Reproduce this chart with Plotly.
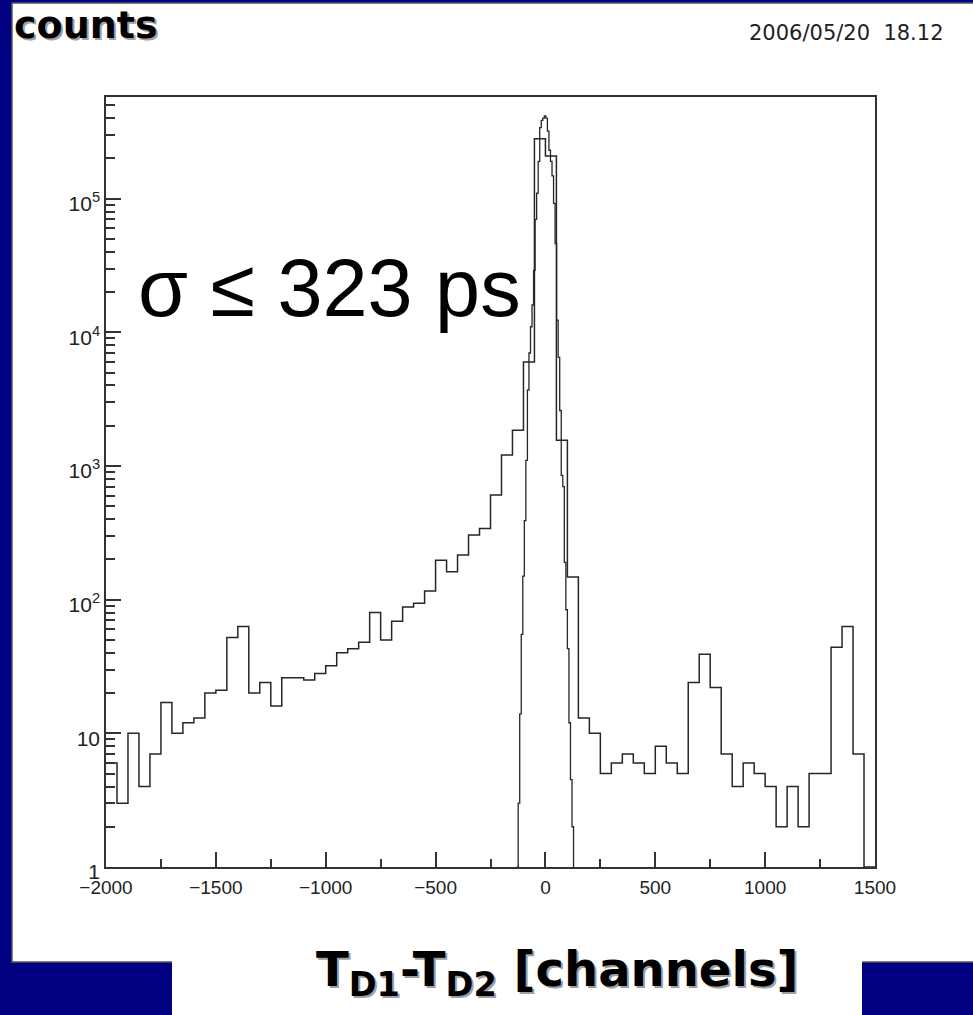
import numpy as np
import plotly.graph_objects as go

# ---- data -------------------------------------------------------------
# coarse histogram of T_D1 - T_D2, 50-channel bins from -2000 to 1500
coarse_lo, coarse_hi, coarse_w = -2000, 1500, 50
coarse_counts = [
    6, 3, 10, 4, 7, 17, 10, 12, 13, 20,
    21, 52, 63, 20, 24, 16, 26, 26, 25, 28,
    32, 40, 43, 48, 80, 50, 69, 88, 94, 116,
    197, 162, 216, 304, 341, 606, 1206, 1850, 6000, 280000,
    208000, 1560, 148, 13, 10, 5, 6, 7, 6, 5,
    8, 6, 5, 24, 39, 22, 7, 4, 6, 5,
    4, 2, 4, 2, 5, 5, 44, 63, 7, 0,
]

# fine-binned peak (7-channel bins starting at -131)
fine_lo, fine_w = -131, 7
fine_counts = [
    1, 3, 14, 55, 150, 390, 1100, 3700, 7000, 11000,
    16000, 29000, 70000, 110000, 190000, 340000, 385000, 400000, 415000, 400000,
    320000, 230000, 190000, 148000, 92000, 46000, 12300, 6500, 2600, 850,
    700, 190, 84, 43, 12, 4.5, 2,
]

y_tick_vals = [1, 10, 100, 1000, 10000, 100000]
y_tick_text = ["1", "10", "10<sup>2</sup>", "10<sup>3</sup>", "10<sup>4</sup>", "10<sup>5</sup>"]
x_tick_vals = [-2000, -1500, -1000, -500, 0, 500, 1000, 1500]
x_minor_vals = [-1750, -1250, -750, -250, 250, 750, 1250]

Y_FLOOR = 1.0
Y_TOP_LOG = 5.76

# ---- geometry of the page --------------------------------------------
W, H = 973, 1015
def px(x):
    return x / W
def py(y):
    return 1 - y / H

NAVY = "#000080"
INK = "#262626"

# ---- step outlines -----------------------------------------------------
c_edges = np.arange(coarse_lo, coarse_hi + coarse_w, coarse_w)
c_vals = np.array(coarse_counts, dtype=float)
c_vals = np.where(c_vals > 0, c_vals, Y_FLOOR)
cx = list(c_edges[:-1]) + [c_edges[-1]]
cy = list(c_vals) + [c_vals[-1]]

f_edges = fine_lo + fine_w * np.arange(len(fine_counts) + 1)
f_vals = np.array(fine_counts, dtype=float)
fx = [f_edges[0]] + list(f_edges[:-1]) + [f_edges[-1]]
fy = [Y_FLOOR] + list(f_vals) + [Y_FLOOR]

fig = go.Figure()
fig.add_trace(go.Scatter(x=cx, y=cy, mode="lines", line=dict(shape="hv", color=INK, width=1.5),
                         showlegend=False, hoverinfo="skip"))
fig.add_trace(go.Scatter(x=fx, y=fy, mode="lines", line=dict(shape="hv", color=INK, width=1.3),
                         showlegend=False, hoverinfo="skip"))

minor_y = [k * 10 ** n for n in range(0, 6) for k in range(2, 10) if np.log10(k * 10 ** n) < Y_TOP_LOG]

fig.update_xaxes(
    range=[coarse_lo, coarse_hi], domain=[px(106), px(875)], automargin=False,
    showgrid=False, zeroline=False, showline=True, mirror=True, linecolor="#333", linewidth=1.5,
    tickmode="array", tickvals=x_tick_vals, ticks="inside", ticklen=15, tickwidth=1.5, tickcolor="#333",
    minor=dict(tickmode="array", tickvals=x_minor_vals, ticks="inside", ticklen=8, tickwidth=1.5, tickcolor="#333"),
    tickfont=dict(family="Liberation Sans", size=19, color="#222"),
    ticklabelstandoff=2,
)
fig.update_yaxes(
    type="log", range=[0, Y_TOP_LOG], domain=[py(867), py(97)], automargin=False,
    showgrid=False, zeroline=False, showline=True, mirror=True, linecolor="#333", linewidth=1.5,
    tickmode="array", tickvals=y_tick_vals, ticktext=y_tick_text,
    ticks="inside", ticklen=15, tickwidth=1.5, tickcolor="#333",
    minor=dict(tickmode="array", tickvals=minor_y, ticks="inside", ticklen=9, tickwidth=1.5, tickcolor="#333"),
    tickfont=dict(family="Liberation Sans", size=21, color="#222"),
    ticklabelshift=5,
)

# ---- background panels -----------------------------------------------
shapes = [
    dict(type="rect", xref="paper", yref="paper", x0=px(12), x1=1.02, y0=py(962), y1=py(3),
         fillcolor="white", line=dict(color="#555", width=1.5), layer="below"),
    dict(type="rect", xref="paper", yref="paper", x0=px(172), x1=px(862), y0=-0.02, y1=py(960),
         fillcolor="white", line=dict(width=0), layer="below"),
]

# ---- texts -----------------------------------------------------------
ann = []
def label(text, x, y, size, family, color, xa, ya, dx=0, dy=0):
    ann.append(dict(text=text, xref="paper", yref="paper", x=px(x), y=py(y), xanchor=xa, yanchor=ya,
                    showarrow=False, xshift=dx, yshift=dy,
                    font=dict(size=size, family=family, color=color)))

BOLD = "DejaVu Sans"
# y-axis title with drop shadow
label("<b>counts</b>", 12, 1, 38, BOLD, "#a0a0a0", "left", "top", dx=2, dy=-2)
label("<b>counts</b>", 12, 1, 38, BOLD, "black", "left", "top")
# timestamp
label("2006/05/20&nbsp;&nbsp;18.12", 946, 33, 21, "DejaVu Sans", "#222", "right", "middle")
# resolution
label("σ ≤ 323 ps", 136, 288, 81, "Liberation Sans", "black", "left", "middle")
# x-axis title with drop shadow
xt = "<b>T<sub>D1</sub>-T<sub>D2</sub> [channels]</b>"
label(xt, 557, 972, 48, BOLD, "#a0a0a0", "center", "middle", dx=2, dy=-2)
label(xt, 557, 972, 48, BOLD, "black", "center", "middle")

fig.update_layout(
    width=W, height=H, margin=dict(l=0, r=0, t=0, b=0),
    paper_bgcolor=NAVY, plot_bgcolor="rgba(0,0,0,0)",
    shapes=shapes, annotations=ann, showlegend=False,
)

fig.write_html("out.html")
